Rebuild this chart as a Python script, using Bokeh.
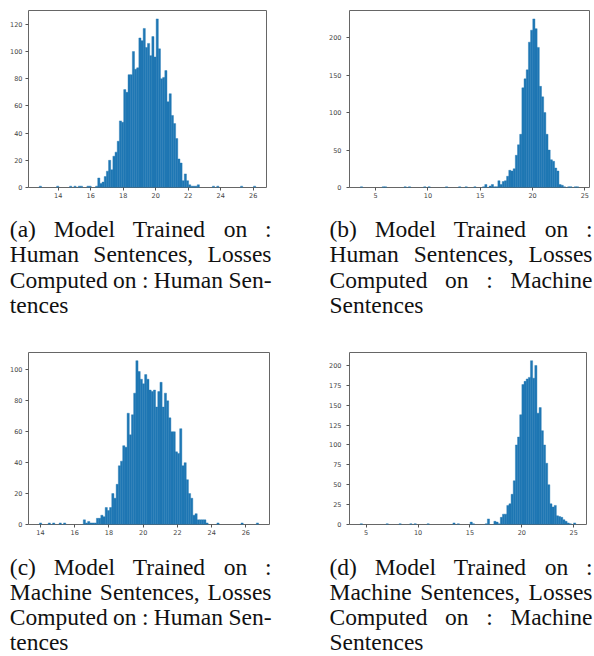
import numpy as np
from bokeh.plotting import figure
from bokeh.layouts import column, row
from bokeh.models import Range1d, FixedTicker, ColumnDataSource
from bokeh.core.properties import value
from bokeh.embed import file_html
from bokeh.resources import INLINE

# ---------------- data (100-bin histograms of losses) ----------------
range_a = (12.84, 26.15)
counts_a = [1, 0, 0, 0, 0, 0, 0, 0, 1, 0,
            0, 0, 0, 0, 1, 0, 1, 0, 1, 1,
            0, 0, 1, 1, 0, 0, 1, 7, 3, 4,
            8, 12, 20, 13, 23, 26, 34, 49, 48, 72,
            70, 83, 83, 100, 87, 88, 110, 108, 117, 103,
            106, 97, 111, 96, 124, 102, 80, 81, 86, 63,
            69, 53, 47, 36, 21, 18, 5, 10, 5, 2,
            1, 1, 1, 2, 0, 0, 0, 0, 0, 0,
            1, 0, 1, 0, 0, 0, 0, 0, 0, 0,
            0, 0, 0, 1, 0, 0, 0, 0, 0, 1]

range_b = (3.55, 24.40)
counts_b = [1, 0, 0, 0, 0, 0, 0, 0, 0, 0,
            1, 1, 0, 0, 0, 0, 0, 0, 0, 0,
            1, 0, 1, 0, 0, 0, 0, 0, 0, 1,
            0, 1, 0, 0, 0, 0, 0, 0, 0, 1,
            0, 0, 0, 0, 0, 1, 0, 0, 1, 0,
            0, 0, 1, 0, 0, 0, 1, 4, 0, 2,
            4, 1, 1, 9, 4, 8, 9, 15, 23, 22,
            25, 43, 57, 71, 133, 145, 157, 194, 210, 225,
            212, 187, 135, 121, 100, 71, 50, 37, 35, 26,
            22, 4, 3, 1, 0, 1, 1, 0, 1, 1]

range_c = (13.94, 26.74)
counts_c = [1, 0, 0, 0, 1, 0, 1, 0, 0, 1,
            0, 1, 0, 0, 0, 0, 0, 0, 0, 0,
            3, 1, 2, 1, 1, 1, 4, 4, 6, 5,
            11, 9, 11, 20, 17, 26, 38, 41, 51, 50,
            72, 58, 71, 85, 106, 99, 94, 91, 97, 94,
            87, 86, 87, 76, 86, 92, 76, 85, 80, 69,
            60, 60, 47, 46, 62, 38, 40, 29, 20, 17,
            6, 7, 3, 3, 3, 3, 1, 0, 0, 0,
            0, 1, 0, 0, 0, 0, 0, 0, 0, 0,
            0, 0, 1, 0, 0, 0, 0, 0, 0, 1]

range_d = (4.43, 25.19)
counts_d = [1, 0, 0, 0, 0, 0, 0, 0, 0, 0,
            0, 0, 1, 0, 0, 0, 0, 0, 1, 0,
            0, 0, 0, 1, 0, 1, 0, 0, 0, 0,
            0, 1, 0, 0, 0, 0, 0, 0, 0, 0,
            0, 0, 0, 2, 0, 1, 0, 0, 0, 0,
            0, 3, 1, 0, 0, 0, 0, 0, 1, 7,
            0, 0, 4, 3, 1, 9, 13, 13, 24, 26,
            38, 55, 100, 110, 138, 176, 180, 183, 185, 206,
            184, 200, 140, 147, 118, 100, 77, 50, 26, 22,
            24, 11, 10, 9, 6, 4, 2, 1, 0, 2]

xticks_a = [14, 16, 18, 20, 22, 24, 26]
yticks_a = [0, 20, 40, 60, 80, 100, 120]
xticks_b = [5, 10, 15, 20, 25]
yticks_b = [0, 50, 100, 150, 200]
xticks_c = [14, 16, 18, 20, 22, 24, 26]
yticks_c = [0, 20, 40, 60, 80, 100]
xticks_d = [5, 10, 15, 20, 25]
yticks_d = [0, 25, 50, 75, 100, 125, 150, 175, 200]

caption_a = ["(a) Model Trained on :", "Human Sentences, Losses",
             "Computed on : Human Sen-", "tences"]
caption_b = ["(b) Model Trained on :", "Human Sentences, Losses",
             "Computed on : Machine", "Sentences"]
caption_c = ["(c) Model Trained on :", "Machine Sentences, Losses",
             "Computed on : Human Sen-", "tences"]
caption_d = ["(d) Model Trained on :", "Machine Sentences, Losses",
             "Computed on : Machine", "Sentences"]

# ---------------- styling ----------------
BAR = "#1f77b4"
TICK_FONT = "DejaVu Sans"
CAP_FONT = "Liberation Serif"
CAP_SIZE = 23.5
PAGE_W = 594


def hist_fig(counts, rng, xticks, yticks, width, height, borders, ystand=3):
    counts = np.asarray(counts, dtype=float)
    lo, hi = rng
    edges = np.linspace(lo, hi, len(counts) + 1)
    m = 0.05 * (hi - lo)
    l, r, t, b = borders
    p = figure(width=width, height=height, output_backend="svg", toolbar_location=None,
               title=None,
               x_range=Range1d(lo - m, hi + m), y_range=Range1d(0, counts.max() * 1.05),
               min_border_left=l, min_border_right=r, min_border_top=t, min_border_bottom=b)
    nz = counts > 0
    src = ColumnDataSource(dict(left=edges[:-1][nz], right=edges[1:][nz], top=counts[nz]))
    p.quad(left="left", right="right", bottom=0, top="top", source=src,
           fill_color=BAR, line_color=BAR, line_width=0.4)
    for ax, ticks, st in ((p.xaxis[0], xticks, 2), (p.yaxis[0], yticks, ystand)):
        ax.ticker = FixedTicker(ticks=ticks)
        ax.major_label_text_font_size = "6.5px"
        ax.major_label_text_font = TICK_FONT
        ax.major_label_text_color = "#444"
        ax.major_tick_out = 3
        ax.major_tick_in = 0
        ax.major_tick_line_color = "#555"
        ax.minor_tick_line_color = None
        ax.axis_line_color = None
        ax.major_label_standoff = st
    p.xgrid.visible = False
    p.ygrid.visible = False
    p.outline_line_color = "#666"
    p.outline_line_width = 1
    p.background_fill_color = "white"
    p.border_fill_color = "white"
    return p


CHAR_W = {" ": 250, "(": 333, ")": 333, "a": 444, "b": 500, "c": 444, "d": 500,
          "e": 444, "h": 500, "i": 278, "l": 278, "m": 778, "n": 500, "o": 500,
          "p": 500, "r": 333, "s": 389, "t": 278, "u": 500, "M": 889, "T": 611,
          "H": 722, "S": 556, "C": 667, "L": 611, ":": 278, ",": 250, "-": 333}


def tw(s):
    return sum(CHAR_W.get(ch, 500) for ch in s) / 1000.0 * CAP_SIZE


def caption_fig(height, blocks, lead):
    p = figure(width=PAGE_W, height=height, output_backend="svg", toolbar_location=None,
               title=None,
               x_range=Range1d(0, PAGE_W), y_range=Range1d(height, 0),
               x_axis_type=None, y_axis_type=None, min_border=0)
    p.xgrid.visible = False
    p.ygrid.visible = False
    p.outline_line_color = None
    p.background_fill_color = "white"
    p.border_fill_color = "white"
    xs, ys, ts = [], [], []
    for left, right, base, lines in blocks:
        for k, line in enumerate(lines):
            words = line.split(" ")
            widths = [tw(w) for w in words]
            if k < len(lines) - 1 and len(words) > 1:
                gap = (right - left - sum(widths)) / (len(words) - 1)
            else:
                gap = tw(" ")
            x = left
            for w, wd in zip(words, widths):
                xs.append(x)
                ys.append(base + k * lead)
                ts.append(w)
                x += wd + gap
    src = ColumnDataSource(dict(x=xs, y=ys, t=ts))
    p.text(x="x", y="y", text="t", source=src, text_font=value(CAP_FONT),
           text_font_size=f"{CAP_SIZE}px", text_color="#111",
           text_align="left", text_baseline="alphabetic")
    return p


# page has no margin (bokeh template): layout spans the full 594 x 656 window
fa = hist_fig(counts_a, range_a, xticks_a, yticks_a, 300, 208, (28, 34, 9, 21))
fb = hist_fig(counts_b, range_b, xticks_b, yticks_b, 294, 208, (49, 5, 10, 18), ystand=5)
fc = hist_fig(counts_c, range_c, xticks_c, yticks_c, 300, 215, (28, 31, 15, 21))
fd = hist_fig(counts_d, range_d, xticks_d, yticks_d, 294, 215, (49, 8, 22, 17), ystand=5)

cap1 = caption_fig(122, [(9.3, 271.0, 20.0, caption_a), (329.0, 592.0, 20.0, caption_b)], 25.6)
cap2 = caption_fig(111, [(9.3, 271.0, 21.0, caption_c), (329.0, 592.0, 21.0, caption_d)], 25.0)

layout = column(row(fa, fb), cap1, row(fc, fd), cap2)

open("out.html", "w").write(file_html(layout, INLINE))
